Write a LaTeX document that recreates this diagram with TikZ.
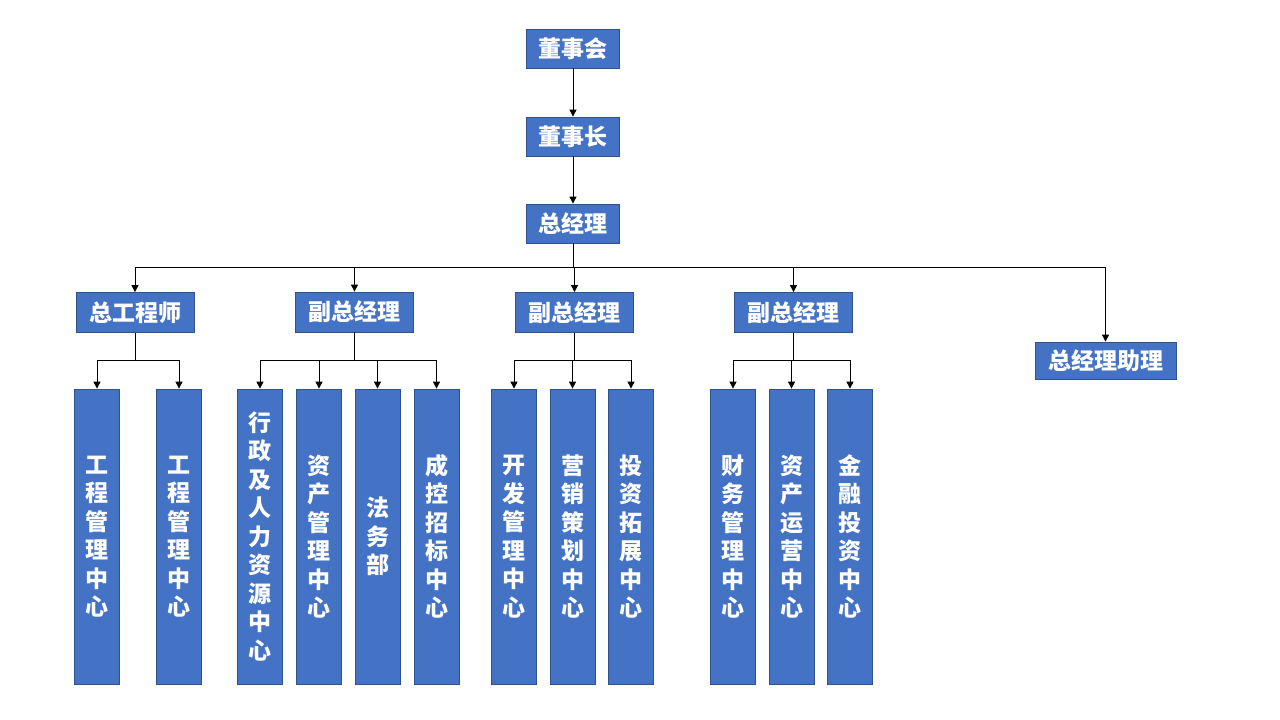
\documentclass[tikz,border=0pt]{standalone}
\usepackage{fontspec}
\setmainfont{Noto Sans CJK SC}
\usepackage{tikz}
\usetikzlibrary{arrows.meta}
\definecolor{boxblue}{HTML}{4472C4}
\definecolor{boxline}{HTML}{2F528F}

\begin{document}
\begin{tikzpicture}[x=1pt, y=-1pt, >={Triangle[length=7pt,width=7pt]},
        box/.style={draw=boxline, line width=0.8pt, fill=boxblue, text=white, inner sep=0pt, align=center,
          font=\bfseries\fontsize{23}{28.5}\selectfont},
        topbox/.style={box, minimum width=93pt, minimum height=39pt},
        midbox/.style={box, minimum width=118pt, minimum height=40pt},
        colbox/.style={box, minimum width=45pt, minimum height=295pt},
        conn/.style={draw, line width=1pt},
      ]
      \useasboundingbox (0,0) rectangle (1280,720);

      % board, chairman, general manager
      \node[topbox] (dsh) at (573,48.5) {董事会};
      \node[topbox] (dsz) at (573,136.5) {董事长};
      \node[topbox] (zjl) at (573,223.5) {总经理};

      % second level
      \node[midbox] (zgcs) at (135,312.5) {总工程师};
      \node[midbox] (fz1) at (354.5,312) {副总经理};
      \node[midbox] (fz2) at (574.5,312.5) {副总经理};
      \node[midbox] (fz3) at (793.5,312.5) {副总经理};
      \node[box, minimum width=141pt, minimum height=37pt] (zlzl) at (1105.5,360.5) {总经理助理};

      % the twelve centres, text stacked vertically
      \foreach \x/\name/\txt in {
        97/gc1/{工\\程\\管\\理\\中\\心}, 179/gc2/{工\\程\\管\\理\\中\\心},
        260/xz/{行\\政\\及\\人\\力\\资\\源\\中\\心}, 319/zc/{资\\产\\管\\理\\中\\心},
        377.5/fw/{法\\务\\部}, 436.5/ck/{成\\控\\招\\标\\中\\心},
        514/kf/{开\\发\\管\\理\\中\\心}, 572.5/yx/{营\\销\\策\\划\\中\\心},
        631/tz/{投\\资\\拓\\展\\中\\心}, 733/cw/{财\\务\\管\\理\\中\\心},
        791.5/zy/{资\\产\\运\\营\\中\\心}, 850/jr/{金\\融\\投\\资\\中\\心}}
        \node[colbox] (\name) at (\x,536.5) {\txt};

      % connectors
      \draw[conn, ->] (dsh) -- (dsz);
      \draw[conn, ->] (dsz) -- (zjl);
      \coordinate (bus) at (573,267);
      \draw[conn] (zjl.south) -- (bus);
      \foreach \n in {zgcs, fz1, fz2, fz3, zlzl}
        \draw[conn, ->] (bus) -| (\n.north);

      \foreach \boss/\kids in {zgcs/{gc1,gc2}, fz1/{xz,zc,fw,ck}, fz2/{kf,yx,tz}, fz3/{cw,zy,jr}} {
        \draw[conn] (\boss.south) -- ++(0,28) coordinate (j);
        \foreach \k in \kids
          \draw[conn, ->] (j) -| (\k.north);
      }
    \end{tikzpicture}
\end{document}
